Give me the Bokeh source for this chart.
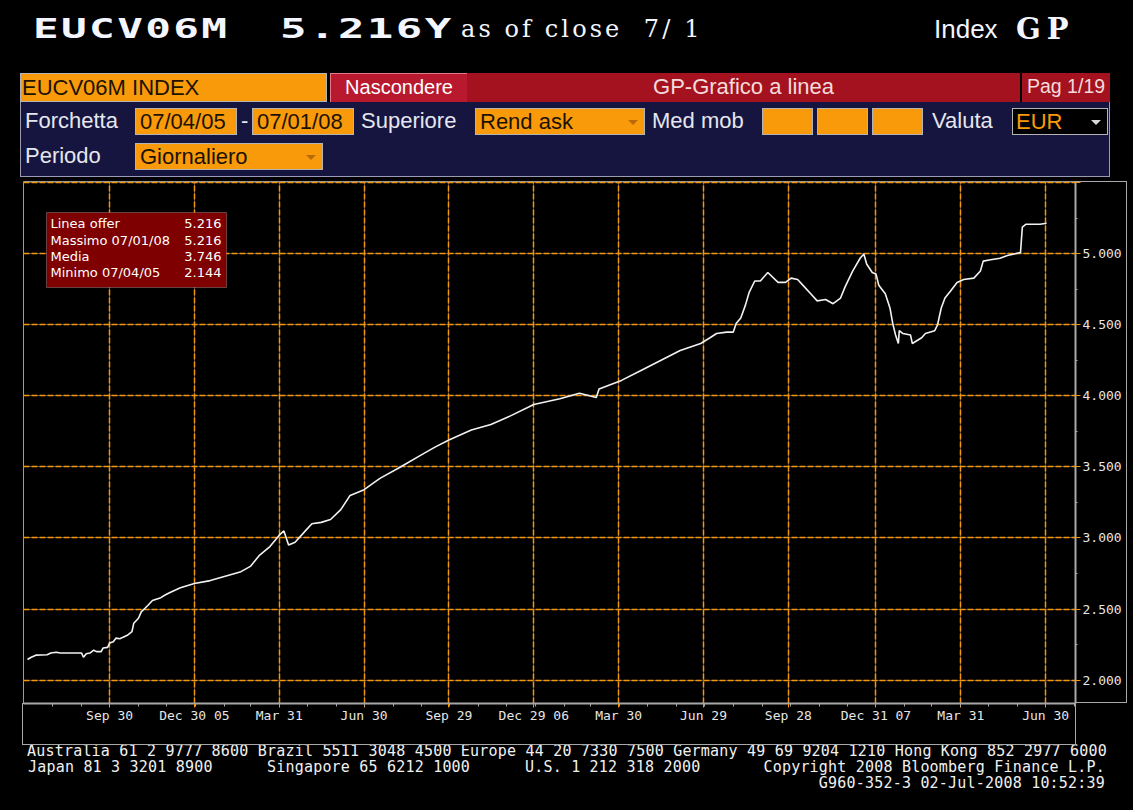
import pandas as pd
from bokeh.plotting import figure
from bokeh.models import (Div, Range1d, FixedTicker, Grid, BoxAnnotation, Label,
                          NumeralTickFormatter, ColumnDataSource)
from bokeh.layouts import column
from bokeh.embed import file_html
from bokeh.resources import INLINE

# ---------------- data ----------------
dates = [
    "2005-07-04", "2005-07-08", "2005-07-13", "2005-07-25", "2005-07-29", "2005-08-04",
    "2005-08-08", "2005-08-22", "2005-08-31", "2005-09-02", "2005-09-05", "2005-09-09",
    "2005-09-13", "2005-09-16", "2005-09-21", "2005-09-23", "2005-09-28", "2005-09-30",
    "2005-10-04", "2005-10-07", "2005-10-11", "2005-10-14", "2005-10-19", "2005-10-24",
    "2005-10-26", "2005-10-31", "2005-11-03", "2005-11-07", "2005-11-10", "2005-11-15",
    "2005-11-24", "2005-11-29", "2005-12-05", "2005-12-15", "2005-12-30", "2006-01-16",
    "2006-02-01", "2006-02-17", "2006-02-28", "2006-03-10", "2006-03-21", "2006-03-31",
    "2006-04-05", "2006-04-10", "2006-04-17", "2006-04-28", "2006-05-05", "2006-05-15",
    "2006-05-25", "2006-06-05", "2006-06-15", "2006-06-30", "2006-07-17", "2006-08-08",
    "2006-08-29", "2006-09-14", "2006-09-29", "2006-10-23", "2006-11-13", "2006-12-04",
    "2006-12-29", "2007-01-26", "2007-02-16", "2007-03-06", "2007-03-09", "2007-04-02",
    "2007-04-23", "2007-05-14", "2007-06-04", "2007-06-26", "2007-07-06", "2007-07-13",
    "2007-07-24", "2007-07-31", "2007-08-03", "2007-08-08", "2007-08-13", "2007-08-17",
    "2007-08-23", "2007-08-29", "2007-09-06", "2007-09-17", "2007-09-25", "2007-10-01",
    "2007-10-08", "2007-10-15", "2007-10-22", "2007-10-29", "2007-11-07", "2007-11-15",
    "2007-11-23", "2007-11-28", "2007-12-06", "2007-12-14", "2007-12-18", "2007-12-21",
    "2007-12-27", "2007-12-31", "2008-01-03", "2008-01-10", "2008-01-15", "2008-01-18",
    "2008-01-21", "2008-01-24", "2008-01-25", "2008-01-29", "2008-02-06", "2008-02-08",
    "2008-02-18", "2008-02-22", "2008-03-03", "2008-03-06", "2008-03-10", "2008-03-14",
    "2008-03-20", "2008-03-27", "2008-04-03", "2008-04-14", "2008-04-21", "2008-04-24",
    "2008-05-02", "2008-05-12", "2008-05-20", "2008-06-03", "2008-06-05", "2008-06-09",
    "2008-06-24", "2008-07-01",
]
yields = [
    2.144, 2.160, 2.175, 2.178, 2.190, 2.195,
    2.190, 2.190, 2.190, 2.160, 2.185, 2.190,
    2.210, 2.200, 2.200, 2.225, 2.230, 2.260,
    2.270, 2.295, 2.290, 2.300, 2.315, 2.340,
    2.400, 2.435, 2.480, 2.505, 2.525, 2.560,
    2.580, 2.600, 2.620, 2.650, 2.680, 2.700,
    2.730, 2.760, 2.800, 2.880, 2.940, 3.020,
    3.050, 2.950, 2.970, 3.050, 3.100, 3.110,
    3.130, 3.200, 3.300, 3.340, 3.420, 3.500,
    3.580, 3.640, 3.690, 3.760, 3.800, 3.860,
    3.940, 3.980, 4.020, 3.990, 4.050, 4.110,
    4.180, 4.250, 4.320, 4.370, 4.410, 4.440,
    4.450, 4.450, 4.510, 4.550, 4.640, 4.730,
    4.810, 4.810, 4.870, 4.800, 4.800, 4.830,
    4.820, 4.770, 4.720, 4.670, 4.680, 4.650,
    4.690, 4.770, 4.880, 4.970, 5.000, 4.930,
    4.870, 4.860, 4.780, 4.720, 4.620, 4.510,
    4.430, 4.370, 4.460, 4.440, 4.430, 4.370,
    4.410, 4.440, 4.460, 4.500, 4.620, 4.690,
    4.740, 4.800, 4.820, 4.830, 4.880, 4.950,
    4.960, 4.970, 4.990, 5.010, 5.190, 5.210,
    5.210, 5.216,
]

tick_dates = ["2005-09-30", "2005-12-30", "2006-03-31", "2006-06-30", "2006-09-29",
              "2006-12-29", "2007-03-30", "2007-06-29", "2007-09-28", "2007-12-31",
              "2008-03-31", "2008-06-30"]
tick_labels = ["Sep 30", "Dec 30 05", "Mar 31", "Jun 30", "Sep 29", "Dec 29 06",
               "Mar 30", "Jun 29", "Sep 28", "Dec 31 07", "Mar 31", "Jun 30"]
y_ticks = [2.0, 2.5, 3.0, 3.5, 4.0, 4.5, 5.0, 5.5]

stats_labels = ["Linea offer", "Massimo  07/01/08", "Media", "Minimo  07/04/05"]
stats_values = ["5.216", "5.216", "3.746", "2.144"]

header_ticker = "EUCV06M"
header_value = "5.216Y"
header_asof = "as of close&nbsp;&nbsp;7/ 1"
footer_lines = [
    "Australia 61 2 9777 8600 Brazil 5511 3048 4500 Europe 44 20 7330 7500 Germany 49 69 9204 1210 Hong Kong 852 2977 6000",
    "Japan 81 3 3201 8900",
    "Singapore 65 6212 1000",
    "U.S. 1 212 318 2000",
    "Copyright 2008 Bloomberg Finance L.P.",
    "G960-352-3 02-Jul-2008 10:52:39",
]

# ---------------- helpers ----------------
origin = pd.Timestamp("2005-07-04")
def days(ds):
    return [int((pd.Timestamp(d) - origin).days) for d in ds]

W = 1133
TOP_H = 178
ORANGE = "#f99a0b"
GRID_OR = "#f5960a"

def el(x, y, w, h, content="", style=""):
    return (f'<div style="position:absolute;left:{x}px;top:{y}px;width:{w}px;height:{h}px;'
            f'line-height:{h-2}px;white-space:nowrap;box-sizing:border-box;overflow:visible;{style}">'
            f'{content}</div>')

def tri(x, y, color):
    return (f'<div style="position:absolute;left:{x}px;top:{y}px;width:0;height:0;'
            f'border-left:5px solid transparent;border-right:5px solid transparent;'
            f'border-top:5px solid {color};"></div>')

SANS = "font-family:'Liberation Sans',Arial,sans-serif;"
LBL = SANS + "font-size:22px;color:#e6e6ee;"
OBOX = SANS + f"font-size:22px;color:#1c1200;background:{ORANGE};border:1px solid #b4b4b4;padding-left:4px;"
RED = "#a5121f"

def wide(s, scale):
    return (f'<span style="display:inline-block;transform:scaleX({scale});transform-origin:left;'
            f'font-family:\'DejaVu Sans Mono\';font-weight:bold;font-size:27px;letter-spacing:1.5px;'
            f'color:#f4f6ff">{s}</span>')

parts = []
# header line
parts.append(el(33, 14, 220, 32, wide(header_ticker, 1.58)))
parts.append(el(280, 14, 190, 32, wide(header_value, 1.63)))
parts.append(el(461, 14, 260, 32, header_asof,
    "font-family:'DejaVu Serif';font-size:24px;letter-spacing:3.1px;color:#f4f6ff;"))
parts.append(el(934, 14, 80, 32, "Index", SANS + "font-size:26px;color:#f4f6ff;"))
parts.append(el(1016, 14, 80, 32, "GP",
    "font-family:'DejaVu Serif';font-weight:bold;font-size:29px;letter-spacing:6px;color:#f4f6ff;"))

# row 1 tabs
parts.append(el(20, 73, 307, 29, "EUCV06M INDEX", OBOX + "padding-left:1px;"))
parts.append(el(330, 73, 137, 29, "Nascondere",
    SANS + "font-size:20px;color:#ffffff;background:#b8192e;text-align:center;"
    "border-top:1px solid #e47a88;border-left:1px solid #e47a88;"))
parts.append(el(467, 73, 553, 29, "GP-Grafico a linea",
    SANS + f"font-size:22px;color:#f3dcdc;background:{RED};text-align:center;"))
parts.append(el(1022, 73, 88, 29, "Pag 1/19",
    SANS + f"font-size:19.5px;color:#f3dcdc;background:{RED};padding-left:5px;"))
# navy body
parts.append(el(20, 102, 1090, 75, "", "background:#15153f;border:1px solid #9a9ab0;border-top:none;"))
# row 2
parts.append(el(25, 108, 110, 27, "Forchetta", LBL))
parts.append(el(135, 108, 102, 27, "07/04/05", OBOX))
parts.append(el(241, 108, 10, 27, "-", LBL))
parts.append(el(252, 108, 102, 27, "07/01/08", OBOX))
parts.append(el(361, 108, 110, 27, "Superiore", LBL))
parts.append(el(475, 108, 170, 27, "Rend ask", OBOX))
parts.append(tri(628, 120, "#b86a05"))
parts.append(el(652, 108, 100, 27, "Med mob", LBL))
for bx in (762, 817, 872):
    parts.append(el(bx, 108, 51, 27, "", OBOX))
parts.append(el(932, 108, 80, 27, "Valuta", LBL))
parts.append(el(1012, 108, 96, 27, "EUR",
    SANS + f"font-size:22px;color:{ORANGE};background:#000;border:1px solid #b4b4b4;padding-left:3px;"))
parts.append(tri(1091, 120, "#d8d8d8"))
# row 3
parts.append(el(25, 143, 110, 27, "Periodo", LBL))
parts.append(el(135, 143, 188, 27, "Giornaliero", OBOX))
parts.append(tri(306, 155, "#b86a05"))

top_html = (f'<div style="position:relative;width:{W}px;height:{TOP_H}px;background:#000;overflow:hidden">'
            + "".join(parts) + "</div>")
top_div = Div(text=top_html, width=W, height=TOP_H, margin=0)

# ---------------- chart ----------------
x = days(dates)
src = ColumnDataSource(dict(x=x, y=yields))

p = figure(frame_width=1052, frame_height=522, output_backend="svg", toolbar_location=None,
           y_axis_location="right",
           x_range=Range1d(-4.3, 1124), y_range=Range1d(1.834507, 5.510563),
           min_border_left=23, min_border_right=58, min_border_top=3, min_border_bottom=42,
           margin=0)
p.background_fill_color = "#000000"
p.border_fill_color = "#000000"
p.outline_line_color = "#9a9a9a"
p.outline_line_width = 1

# gray label boxes around the axes (drawn in the figure's border area)
p.stylesheets = [
    ":host{position:relative;}"
    ":host::before{content:'';position:absolute;left:1075px;top:3px;width:52px;height:522px;"
    "border:1px solid #a8a8a8;box-sizing:border-box;z-index:10;pointer-events:none;}"
    ":host::after{content:'';position:absolute;left:22px;top:525px;width:1054px;height:42px;"
    "border:1px solid #a8a8a8;box-sizing:border-box;z-index:10;pointer-events:none;}"
]

major_x = days(tick_dates)
mstarts = pd.date_range("2005-08-01", "2008-08-01", freq="MS") - pd.Timedelta(days=1)
minor_x = [int((d - origin).days) for d in mstarts]
minor_y = [v + 0.25 for v in y_ticks[:-1]] + [1.75]

# axes
xa = p.xaxis[0]
xa.ticker = FixedTicker(ticks=major_x, minor_ticks=minor_x)
xa.major_label_overrides = {t: l for t, l in zip(major_x, tick_labels)}
ya = p.yaxis[0]
ya.ticker = FixedTicker(ticks=y_ticks, minor_ticks=minor_y)
ya.formatter = NumeralTickFormatter(format="0.000")
ya.major_label_overrides = {5.5: ""}
for ax in (xa, ya):
    ax.axis_line_color = "#a8a8a8"
    ax.axis_line_width = 2
    ax.major_tick_line_color = GRID_OR
    ax.minor_tick_line_color = "#a8a8a8"
    ax.major_tick_in = 0
    ax.minor_tick_in = 0
    ax.major_label_text_color = "#e6e6e6"
    ax.major_label_text_font = "DejaVu Sans Mono"
    ax.major_label_text_font_size = "13px"
xa.major_tick_out = 4
xa.minor_tick_out = 3
xa.major_label_standoff = 0
ya.major_tick_out = 5
ya.minor_tick_out = 2
ya.major_label_standoff = 2

# grids: dark gray solid underneath, orange dashed on top
p.xgrid.ticker = FixedTicker(ticks=major_x)
p.ygrid.ticker = FixedTicker(ticks=y_ticks)
for g in (p.xgrid[0], p.ygrid[0]):
    g.grid_line_color = "#4a4a4a"
    g.grid_line_width = 1
p.add_layout(Grid(dimension=0, ticker=FixedTicker(ticks=major_x),
                  grid_line_color=GRID_OR, grid_line_dash="6 2", grid_line_width=1.5))
p.add_layout(Grid(dimension=1, ticker=FixedTicker(ticks=y_ticks),
                  grid_line_color=GRID_OR, grid_line_dash="6 2", grid_line_width=1.5))

p.line("x", "y", source=src, line_color="#f2f2f2", line_width=1.6)

# statistics box
p.add_layout(BoxAnnotation(left=23, right=203, bottom=416, top=491,
                           left_units="screen", right_units="screen",
                           bottom_units="screen", top_units="screen",
                           fill_color="#7e0000", fill_alpha=1, line_color="#d0d0d0", line_width=1))
row_y = [480, 463.5, 447, 431]
for lab, val, yy in zip(stats_labels, stats_values, row_y):
    p.add_layout(Label(x=27, y=yy, x_units="screen", y_units="screen", text=lab,
                       text_font="DejaVu Sans", text_font_size="13px", text_color="#ffffff",
                       text_baseline="middle", text_align="left"))
    p.add_layout(Label(x=198, y=yy, x_units="screen", y_units="screen", text=val,
                       text_font="DejaVu Sans", text_font_size="13px", text_color="#ffffff",
                       text_baseline="middle", text_align="right"))

# ---------------- footer ----------------
MONO = "font-family:'DejaVu Sans Mono';font-size:15px;letter-spacing:0.2px;color:#f0f0f0;"
def fl(x, y, s):
    return (f'<div style="position:absolute;left:{x}px;top:{y}px;height:16px;line-height:16px;'
            f'white-space:pre;{MONO}">{s}</div>')
def fr(xr, y, s):
    return (f'<div style="position:absolute;right:{W-xr}px;top:{y}px;height:16px;line-height:16px;'
            f'white-space:pre;{MONO}">{s}</div>')
fparts = [
    fl(27, -2, footer_lines[0]),
    fl(28, 14, footer_lines[1]),
    fl(267, 14, footer_lines[2]),
    fl(525, 14, footer_lines[3]),
    fr(1105, 14, footer_lines[4]),
    fr(1105, 30, footer_lines[5]),
]
FOOT_H = 58
foot_html = (f'<div style="position:relative;width:{W}px;height:{FOOT_H}px;background:#000;overflow:visible">'
             + "".join(fparts) + "</div>")
foot_div = Div(text=foot_html, width=W, height=FOOT_H, margin=0)

layout = column(top_div, p, foot_div, spacing=0, margin=0)
html = file_html(layout, INLINE, title="EUCV06M")
html = html.replace("</head>", "<style>html,body{margin:0;padding:0;background:#000;}</style></head>", 1)
open("out.html", "w").write(html)
